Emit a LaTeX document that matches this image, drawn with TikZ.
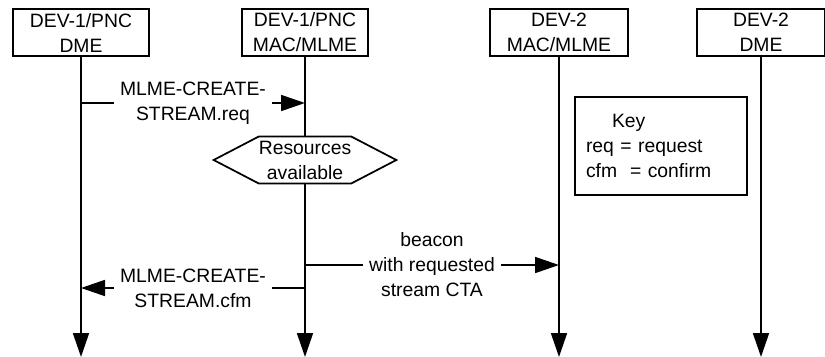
\documentclass[tikz,border=0pt]{standalone}
\usepackage{fontspec}
\setmainfont{Liberation Sans}
\usetikzlibrary{arrows.meta,shapes.symbols}
\begin{document}
\begin{tikzpicture}[x=0.75pt, y=-0.75pt,
        font=\fontsize{14.5}{18.75}\selectfont,
        entity/.style={rectangle, draw, line width=1.3pt, minimum height=35.25pt, align=center, inner sep=0pt},
        life/.style={line width=1.3pt, -{Triangle[length=18pt, width=12pt]}},
        msg/.style={line width=1.3pt, -{Triangle[length=18pt, width=12pt]}},
        lbl/.style={fill=white, align=center, inner xsep=4.5pt, inner ysep=1pt},
        check/.style={signal, signal to=west and east, signal pointer angle=55, draw, fill=white, line width=1.3pt, minimum width=132pt, minimum height=35.25pt, align=center, inner sep=0pt},
        keybox/.style={rectangle, draw, line width=1.3pt, text width=112.5pt, inner xsep=8.25pt, minimum height=73.5pt, align=left}
    ]
        \useasboundingbox (0,0) rectangle (825,357);

        % Entities
        \node[entity, minimum width=102pt] (dme1) at (81,32.5) {DEV-1/PNC\\DME};
        \node[entity, minimum width=94.5pt] (mac1) at (305,32.5) {DEV-1/PNC\\MAC/MLME};
        \node[entity, minimum width=103.5pt] (mac2) at (559,32.5) {DEV-2\\MAC/MLME};
        \node[entity, minimum width=96pt] (dme2) at (761,32.5) {DEV-2\\DME};

        % Lifelines
        \coordinate (e1) at (81,357);
        \coordinate (e2) at (305,357);
        \coordinate (e3) at (559,357);
        \coordinate (e4) at (761,357);
        \draw[life] (dme1.south) -- (e1);
        \draw[life] (mac1.south) -- (e2);
        \draw[life] (mac2.south) -- (e3);
        \draw[life] (dme2.south) -- (e4);

        % Points on the lifelines
        \coordinate (req1) at (81,103);
        \coordinate (req2) at (305,103);
        \coordinate (bcn1) at (305,265);
        \coordinate (bcn2) at (559,265);
        \coordinate (cfm1) at (305,288);
        \coordinate (cfm2) at (81,288);

        % Messages
        \draw[msg] (req1) -- node[lbl] (reqtxt) {MLME-CREATE-\\STREAM.req} (req2);
        \node[check] (res) at (305,160) {Resources\\available};
        \draw[msg] (bcn1) -- node[lbl] (bcntxt) {beacon\\with requested\\stream CTA} (bcn2);
        \draw[msg] (cfm1) -- node[lbl] (cfmtxt) {MLME-CREATE-\\STREAM.cfm} (cfm2);

        % Key
        \node[keybox] (key) at (661,146) {\hspace*{19.5pt}Key\\req = request\\cfm\ \ = confirm};
    \end{tikzpicture}
\end{document}
